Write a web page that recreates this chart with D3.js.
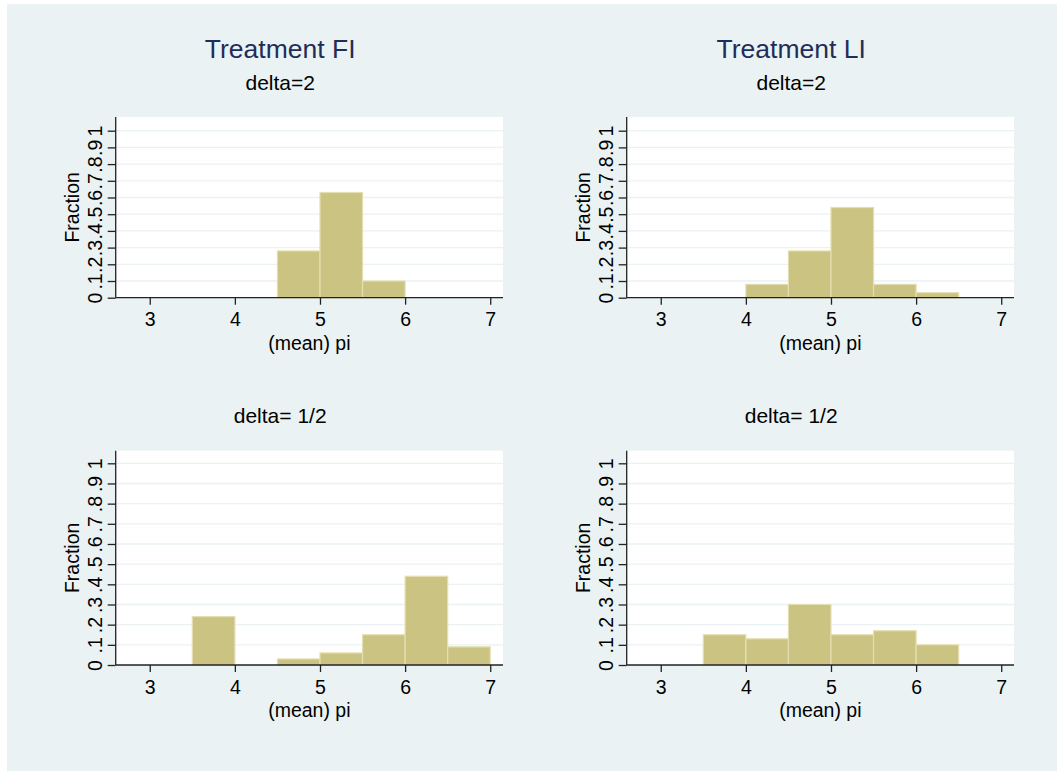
<!DOCTYPE html>
<html>
<head>
<meta charset="utf-8">
<script src="https://d3js.org/d3.v7.min.js"></script>
<style>
  body { margin: 0; background: #fff; }
  text { font-family: "Liberation Sans", Arial, Helvetica, sans-serif; }
</style>
</head>
<body>
<svg id="chart" width="1057" height="771"></svg>
<script>
// data
var colTitles = ["Treatment FI", "Treatment LI"];
var rowTitles = ["delta=2", "delta= 1/2"];
var xTicks = [3, 4, 5, 6, 7];
var yTicks = [0, .1, .2, .3, .4, .5, .6, .7, .8, .9, 1];
var yTickLabels = ["0", ".1", ".2", ".3", ".4", ".5", ".6", ".7", ".8", ".9", "1"];
var binWidth = 0.5;

var fiDelta2Bins = [4.5, 5, 5.5];
var fiDelta2 = [0.28, 0.63, 0.10];
var liDelta2Bins = [4, 4.5, 5, 5.5, 6];
var liDelta2 = [0.08, 0.28, 0.54, 0.08, 0.03];
var fiHalfBins = [3.5, 4.5, 5, 5.5, 6, 6.5];
var fiHalf = [0.24, 0.03, 0.06, 0.15, 0.44, 0.09];
var liHalfBins = [3.5, 4, 4.5, 5, 5.5, 6];
var liHalf = [0.15, 0.13, 0.30, 0.15, 0.17, 0.10];

var svg = d3.select("#chart");

svg.append("rect")
  .attr("x", 7).attr("y", 4)
  .attr("width", 1050).attr("height", 767)
  .attr("fill", "#eaf2f3");

var colLeft = [115.7, 626.7];
var plotW = 387.3;
var rows = [
  {top: 117, base: 297.7, ymax: 1.082, sub: 90},
  {top: 450.7, base: 665, ymax: 1.0625, sub: 423}
];

var panels = [
  {c: 0, r: 0, bins: fiDelta2Bins, vals: fiDelta2},
  {c: 1, r: 0, bins: liDelta2Bins, vals: liDelta2},
  {c: 0, r: 1, bins: fiHalfBins, vals: fiHalf},
  {c: 1, r: 1, bins: liHalfBins, vals: liHalf}
];

// column titles
colTitles.forEach(function(t, i){
  svg.append("text")
    .attr("x", colLeft[i] + 164.5)
    .attr("y", 58)
    .attr("text-anchor", "middle")
    .attr("font-size", 26.5)
    .attr("fill", "#1f2d59")
    .text(t);
});

panels.forEach(function(p){
  var left = colLeft[p.c];
  var row = rows[p.r];

  var x = d3.scaleLinear().domain([2.6, 7.15]).range([left, left + plotW]);
  var y = d3.scaleLinear().domain([0, row.ymax]).range([row.base, row.top]);

  var g = svg.append("g");

  // subtitle
  g.append("text")
    .attr("x", left + 164.5)
    .attr("y", row.sub)
    .attr("text-anchor", "middle")
    .attr("font-size", 21)
    .attr("fill", "#000")
    .text(rowTitles[p.r]);

  // plot region
  g.append("rect")
    .attr("x", left).attr("y", row.top)
    .attr("width", plotW).attr("height", row.base - row.top)
    .attr("fill", "#fff");

  // grid
  g.selectAll(".grid")
    .data(yTicks.slice(1))
    .enter().append("line")
    .attr("x1", left).attr("x2", left + plotW)
    .attr("y1", function(d){ return y(d); })
    .attr("y2", function(d){ return y(d); })
    .attr("stroke", "#eaf2f3")
    .attr("stroke-width", 1.3);

  // bars
  var data = p.bins.map(function(b, i){ return {x0: b, v: p.vals[i]}; });
  g.selectAll(".bar")
    .data(data)
    .enter().append("rect")
    .attr("x", function(d){ return x(d.x0); })
    .attr("y", function(d){ return y(d.v); })
    .attr("width", function(d){ return x(d.x0 + binWidth) - x(d.x0); })
    .attr("height", function(d){ return y(0) - y(d.v); })
    .attr("fill", "#cbc382")
    .attr("stroke", "#e4dfb2")
    .attr("stroke-width", 1.2);

  // x axis
  var xAxis = d3.axisBottom(x).tickValues(xTicks).tickSize(7).tickPadding(6).tickFormat(d3.format("d"));
  var xa = g.append("g")
    .attr("transform", "translate(0," + row.base + ")")
    .call(xAxis);
  xa.select(".domain").attr("d", "M" + left + ",0H" + (left + plotW)).attr("stroke", "#222").attr("stroke-width", 1.3);
  xa.selectAll(".tick line").attr("stroke", "#222").attr("stroke-width", 1.3);
  xa.selectAll(".tick text")
    .attr("font-size", 19.5)
    .attr("fill", "#000")
    .attr("dy", null)
    .attr("y", 28.5);

  g.append("text")
    .attr("x", (x.range()[0] + x.range()[1]) / 2)
    .attr("y", row.base + 52)
    .attr("text-anchor", "middle")
    .attr("font-size", 19.5)
    .attr("fill", "#000")
    .text("(mean) pi");

  // y axis
  var yAxis = d3.axisLeft(y).tickValues(yTicks).tickSize(8).tickFormat(function(d, i){ return yTickLabels[i]; });
  var ya = g.append("g")
    .attr("transform", "translate(" + left + ",0)")
    .call(yAxis);
  ya.select(".domain").attr("d", "M0," + row.top + "V" + row.base).attr("stroke", "#222").attr("stroke-width", 1.3);
  ya.selectAll(".tick line").attr("stroke", "#222").attr("stroke-width", 1.3);
  ya.selectAll(".tick text")
    .attr("font-size", 19.5)
    .attr("fill", "#000")
    .attr("x", null).attr("dy", null)
    .attr("text-anchor", "middle")
    .attr("transform", "translate(-14,0) rotate(-90)");

  g.append("text")
    .attr("transform", "translate(" + (left - 36.5) + "," + ((row.top + row.base) / 2) + ") rotate(-90)")
    .attr("text-anchor", "middle")
    .attr("font-size", 19.5)
    .attr("fill", "#000")
    .text("Fraction");
});
</script>
</body>
</html>
